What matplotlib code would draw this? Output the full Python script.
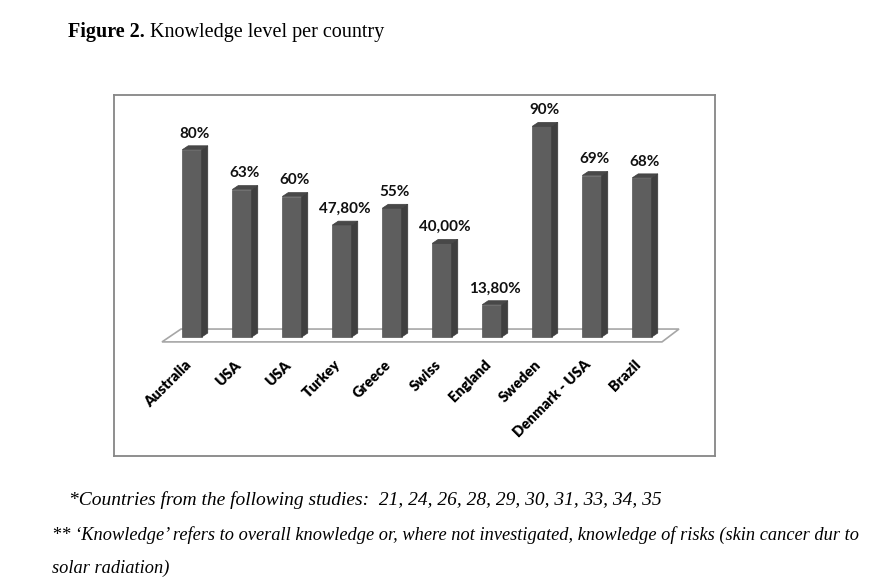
import matplotlib.pyplot as plt
from matplotlib.patches import Polygon

countries = ["Australia", "USA", "USA", "Turkey", "Greece", "Swiss",
             "England", "Sweden", "Denmark - USA", "Brazil"]
knowledge = [80, 63, 60, 47.8, 55, 40.0, 13.8, 90, 69, 68]
value_labels = ["80%", "63%", "60%", "47,80%", "55%", "40,00%",
                "13,80%", "90%", "69%", "68%"]

W, H = 886, 582
fig = plt.figure(figsize=(W / 100, H / 100), dpi=100)

# chart box (pixel coords of the framed area)
bx0, by0, bx1, by1 = 114, 95, 715, 456
ax = fig.add_axes([bx0 / W, 1 - by1 / H, (bx1 - bx0) / W, (by1 - by0) / H])
ax.set_xlim(-1.56, 10.46)
ax.set_ylim(-50.85, 103.4)
ax.set_xticks([])
ax.set_yticks([])
for s in ax.spines.values():
    s.set_color("#868686")
    s.set_linewidth(1.3)

n = len(knowledge)
bw = 0.39
dx, dy = 0.12, 1.7

# floor
floor = Polygon([(-0.6, -2.1), (n - 1 + 0.4, -2.1), (n - 1 + 0.74, 3.4), (-0.22, 3.4)],
                closed=True, facecolor="white", edgecolor="#a6a6a6", linewidth=1.2, zorder=1)
ax.add_patch(floor)

xs = list(range(n))
ax.bar(xs, knowledge, width=bw, color="#5e5e5e", edgecolor="#555555", linewidth=0.5, zorder=3)
for x, v in zip(xs, knowledge):
    r = x + bw / 2
    l = x - bw / 2
    side = Polygon([(r, 0), (r + dx, dy), (r + dx, v + dy), (r, v)],
                   closed=True, facecolor="#3f3f3f", edgecolor="#3a3a3a", linewidth=0.5, zorder=3)
    top = Polygon([(l, v), (r, v), (r + dx, v + dy), (l + dx, v + dy)],
                  closed=True, facecolor="#484848", edgecolor="#404040", linewidth=0.5, zorder=3)
    ax.add_patch(side)
    ax.add_patch(top)

for x, v, lab in zip(xs, knowledge, value_labels):
    ax.text(x + 0.05, v + dy + 2.2, lab, ha="center", va="bottom",
            fontsize=11, fontweight="bold", family="Lato", color="#111111", zorder=4)

for x, c in zip(xs, countries):
    ax.text(x - 0.16, -9, c, rotation=45, ha="right", va="top", rotation_mode="anchor",
            fontsize=10.5, fontweight="heavy", family="Lato", color="#000000")

# title
fig.text(68 / W, 1 - 37 / H, "Figure 2.", fontsize=14.5, fontweight="bold",
         family="Liberation Serif", ha="left", va="baseline")
fig.text(150 / W, 1 - 37 / H, "Knowledge level per country", fontsize=14.5,
         family="Liberation Serif", ha="left", va="baseline")

# footnotes
fig.text(69 / W, 1 - 505 / H,
         "*Countries from the following studies:  21, 24, 26, 28, 29, 30, 31, 33, 34, 35",
         fontsize=14, style="italic", family="Liberation Serif", ha="left", va="baseline")
fig.text(52 / W, 1 - 540 / H,
         "** \u2018Knowledge\u2019 refers to overall knowledge or, where not investigated, "
         "knowledge of risks (skin cancer dur to",
         fontsize=13.2, style="italic", family="Liberation Serif", ha="left", va="baseline")
fig.text(52 / W, 1 - 573 / H, "solar radiation)",
         fontsize=13.2, style="italic", family="Liberation Serif", ha="left", va="baseline")

fig.savefig("out.png", dpi=100)
